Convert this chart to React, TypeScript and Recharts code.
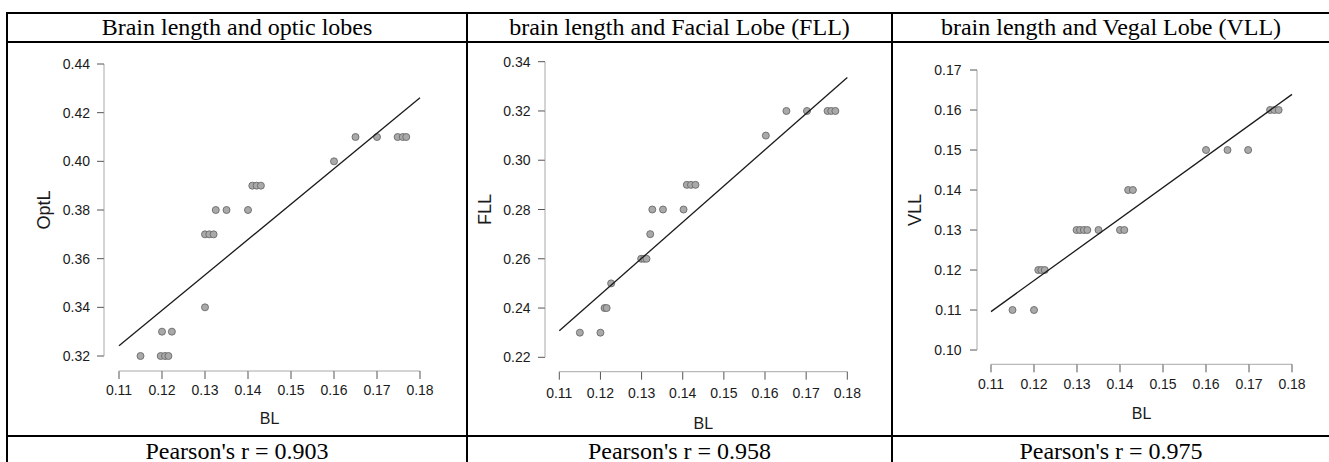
import React from 'react'
import { ScatterChart, Scatter, XAxis, YAxis } from 'recharts'

const SANS = '"Liberation Sans", Arial, Helvetica, sans-serif'
const SERIF = '"Liberation Serif", "Times New Roman", Times, serif'

// shared x axis (brain length)
const blTicks = [0.11, 0.12, 0.13, 0.14, 0.15, 0.16, 0.17, 0.18]
const fitX = [0.11, 0.18]

// optic lobes
const optBL = [0.115, 0.1197, 0.1207, 0.1215, 0.12, 0.1223, 0.13, 0.13, 0.131, 0.132, 0.1325, 0.135, 0.14, 0.141, 0.142, 0.143, 0.16, 0.165, 0.17, 0.1748, 0.176, 0.1768]
const optL = [0.32, 0.32, 0.32, 0.32, 0.33, 0.33, 0.34, 0.37, 0.37, 0.37, 0.38, 0.38, 0.38, 0.39, 0.39, 0.39, 0.4, 0.41, 0.41, 0.41, 0.41, 0.41]
const optTicks = [0.32, 0.34, 0.36, 0.38, 0.4, 0.42, 0.44]
const optFit = [0.3242, 0.4261]

// facial lobe
const fllBL = [0.115, 0.12, 0.121, 0.1215, 0.1226, 0.1299, 0.1306, 0.1312, 0.1321, 0.1326, 0.1352, 0.1402, 0.141, 0.142, 0.1431, 0.1602, 0.1652, 0.1702, 0.1752, 0.1761, 0.1771]
const fll = [0.23, 0.23, 0.24, 0.24, 0.25, 0.26, 0.26, 0.26, 0.27, 0.28, 0.28, 0.28, 0.29, 0.29, 0.29, 0.31, 0.32, 0.32, 0.32, 0.32, 0.32]
const fllTicks = [0.22, 0.24, 0.26, 0.28, 0.3, 0.32, 0.34]
const fllFit = [0.2308, 0.3336]

// vagal lobe
const vllBL = [0.115, 0.12, 0.121, 0.1217, 0.1225, 0.1299, 0.1307, 0.1316, 0.1324, 0.135, 0.14, 0.141, 0.1419, 0.143, 0.16, 0.165, 0.1698, 0.1749, 0.1759, 0.1769]
const vll = [0.11, 0.11, 0.12, 0.12, 0.12, 0.13, 0.13, 0.13, 0.13, 0.13, 0.13, 0.13, 0.14, 0.14, 0.15, 0.15, 0.15, 0.16, 0.16, 0.16]
const vllTicks = [0.1, 0.11, 0.12, 0.13, 0.14, 0.15, 0.16, 0.17]
const vllFit = [0.1096, 0.1639]

const titles = ['Brain length and optic lobes', 'brain length and Facial Lobe (FLL)', 'brain length and Vegal Lobe (VLL)']
const footers = ["Pearson's r = 0.903", "Pearson's r = 0.958", "Pearson's r = 0.975"]

const CHART_TOP = 44
const CHART_H = 390
const AXIS = '#a8a8a8'
const TICK = '#555'
const INK = '#1a1a1a'

type Geo = {
  left: number; width: number
  axisX: number; x0: number; x1: number
  yTop: number; y0: number; axisY: number
  labelDy: number; yGap: number
  xTitleY: number; yTitleX: number
}

const Dot = (p: any) => (
  <circle cx={p.cx} cy={p.cy} r={3.5} fill="#a9a9a9" stroke="#6a6a6a" strokeWidth={0.9} />
)

const Panel = ({ g, bl, vals, fit, yTicks, yName }: { g: Geo; bl: number[]; vals: number[]; fit: number[]; yTicks: number[]; yName: string }) => {
  const stepX = (g.x1 - g.x0) / (blTicks.length - 1)
  const stepY = (g.y0 - g.yTop) / (yTicks.length - 1)
  const points = bl.map((x, i) => ({ x, y: vals[i] }))
  const line = fitX.map((x, i) => ({ x, y: fit[i] }))

  const XTick = (p: any) => (
    <g>
      {p.index > 0 && <line x1={p.x - stepX} x2={p.x} y1={p.y} y2={p.y} stroke={AXIS} />}
      <line x1={p.x} x2={p.x} y1={p.y} y2={p.y + 8} stroke={TICK} />
      <text x={p.x} y={p.y + g.labelDy} textAnchor="middle" fontFamily={SANS} fontSize={14} fill={INK}>
        {Number(p.payload.value).toFixed(2)}
      </text>
    </g>
  )

  const YTick = (p: any) => (
    <g>
      {p.index > 0 && <line x1={p.x} x2={p.x} y1={p.y} y2={p.y + stepY} stroke={AXIS} />}
      <line x1={p.x - 7} x2={p.x} y1={p.y} y2={p.y} stroke={TICK} />
      <text x={p.x - g.yGap} y={p.y + 5} textAnchor="end" fontFamily={SANS} fontSize={14} fill={INK}>
        {Number(p.payload.value).toFixed(2)}
      </text>
    </g>
  )

  const tx = g.yTitleX - g.left
  const ty = (g.yTop + g.y0) / 2 - CHART_TOP

  return (
    <div style={{ position: 'absolute', left: g.left, top: CHART_TOP }}>
      <ScatterChart
        width={g.width}
        height={CHART_H}
        margin={{ top: g.yTop - CHART_TOP, right: g.left + g.width - g.x1, bottom: 0, left: 0 }}
      >
        <XAxis
          type="number"
          dataKey="x"
          domain={[blTicks[0], blTicks[blTicks.length - 1]]}
          ticks={blTicks}
          interval={0}
          height={CHART_TOP + CHART_H - g.axisY}
          padding={{ left: g.x0 - g.axisX, right: 0 }}
          axisLine={false}
          tickLine={false}
          tickSize={0}
          tickMargin={0}
          tick={XTick}
          label={() => (
            <text x={(g.x0 + g.x1) / 2 - g.left} y={g.xTitleY - CHART_TOP} textAnchor="middle" fontFamily={SANS} fontSize={16} fill={INK}>
              BL
            </text>
          )}
        />
        <YAxis
          type="number"
          dataKey="y"
          domain={[yTicks[0], yTicks[yTicks.length - 1]]}
          ticks={yTicks}
          interval={0}
          width={g.axisX - g.left}
          padding={{ top: 0, bottom: g.axisY - g.y0 }}
          axisLine={false}
          tickLine={false}
          tickSize={0}
          tickMargin={0}
          tick={YTick}
          label={() => (
            <text x={tx} y={ty} transform={`rotate(-90, ${tx}, ${ty})`} textAnchor="middle" fontFamily={SANS} fontSize={18} fill={INK}>
              {yName}
            </text>
          )}
        />
        <Scatter data={points} isAnimationActive={false} shape={Dot} />
        <Scatter
          data={line}
          isAnimationActive={false}
          line={{ stroke: '#1a1a1a', strokeWidth: 1.3 }}
          shape={() => <g />}
        />
      </ScatterChart>
    </div>
  )
}

const geos: Geo[] = [
  { left: 9, width: 456, axisX: 104, x0: 119, x1: 420, yTop: 64, y0: 356, axisY: 371, labelDy: 24, yGap: 14, xTitleY: 424, yTitleX: 49.5 },
  { left: 469, width: 421, axisX: 545, x0: 559.3, x1: 847.3, yTop: 61.7, y0: 357.3, axisY: 371.7, labelDy: 26, yGap: 14.5, xTitleY: 429.3, yTitleX: 490.7 },
  { left: 894, width: 435, axisX: 977, x0: 991, x1: 1292, yTop: 70, y0: 350, axisY: 364.3, labelDy: 24.7, yGap: 15.5, xTitleY: 419, yTitleX: 920.7 },
]

const cols = [
  { left: 8, right: 466 },
  { left: 468, right: 891 },
  { left: 893, right: 1329 },
]

const hLine = (top: number) => (
  <div style={{ position: 'absolute', left: 6, width: 1323, top, height: 2, background: '#000' }} />
)
const vLine = (left: number) => (
  <div style={{ position: 'absolute', left, width: 2, top: 12, height: 450, background: '#000' }} />
)

const cellText = (text: string, col: { left: number; right: number }, top: number, key: string) => (
  <div
    key={key}
    style={{
      position: 'absolute',
      left: col.left,
      width: col.right - col.left,
      top,
      height: 27,
      lineHeight: '27px',
      textAlign: 'center',
      fontFamily: SERIF,
      fontSize: 24,
      color: '#000',
      whiteSpace: 'nowrap',
    }}
  >
    {text}
  </div>
)

export default function App() {
  return (
    <div style={{ position: 'absolute', left: 0, top: 0, width: 1329, height: 462, background: '#fff', overflow: 'hidden' }}>
      {hLine(12)}
      {hLine(41)}
      {hLine(435)}
      {vLine(6)}
      {vLine(466)}
      {vLine(891)}
      {titles.map((t, i) => cellText(t, cols[i], 14, 't' + i))}
      {footers.map((t, i) => cellText(t, cols[i], 438, 'f' + i))}
      <Panel g={geos[0]} bl={optBL} vals={optL} fit={optFit} yTicks={optTicks} yName="OptL" />
      <Panel g={geos[1]} bl={fllBL} vals={fll} fit={fllFit} yTicks={fllTicks} yName="FLL" />
      <Panel g={geos[2]} bl={vllBL} vals={vll} fit={vllFit} yTicks={vllTicks} yName="VLL" />
    </div>
  )
}
